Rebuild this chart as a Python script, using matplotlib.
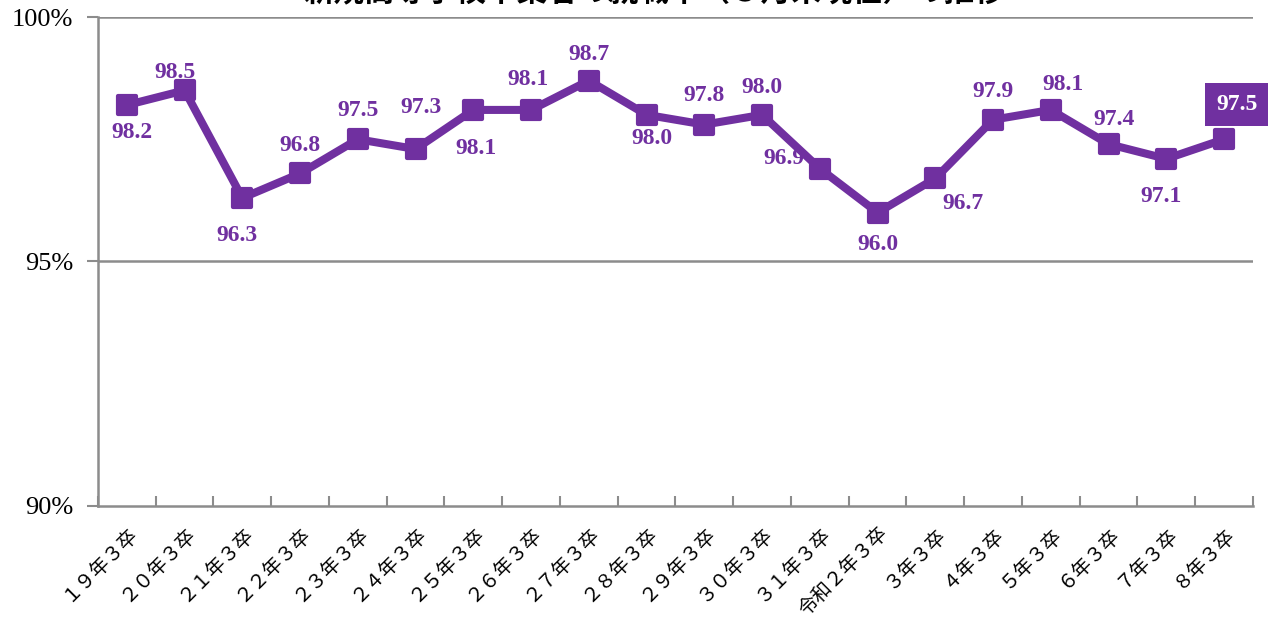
import matplotlib
matplotlib.use("Agg")
import matplotlib.pyplot as plt
from matplotlib.markers import MarkerStyle

categories = [
    "１９年３卒", "２０年３卒", "２１年３卒", "２２年３卒", "２３年３卒",
    "２４年３卒", "２５年３卒", "２６年３卒", "２７年３卒", "２８年３卒",
    "２９年３卒", "３０年３卒", "３１年３卒", "令和２年３卒", "３年３卒",
    "４年３卒", "５年３卒", "６年３卒", "７年３卒", "８年３卒",
]
rates = [98.2, 98.5, 96.3, 96.8, 97.5, 97.3, 98.1, 98.1, 98.7, 98.0,
         97.8, 98.0, 96.9, 96.0, 96.7, 97.9, 98.1, 97.4, 97.1, 97.5]
y_ticks = [90, 95, 100]
y_tick_labels = ["90%", "95%", "100%"]
title = "新規高等学校卒業者の就職率（３月末現在）の推移"

# label offsets in points (layout only)
offsets = [
    (3.6, -20), (-7, 13), (-3.6, -27), (0, 20), (0, 21), (4, 30), (2, -28), (-2, 22),
    (0, 19), (4, -17), (0, 21), (0, 20), (-26, 7), (0, -23), (20, -18),
    (0, 20), (9, 18), (3.6, 18), (-4, -27), (9, 25),
]

PURPLE = "#7030A0"
GREY = "#8c8c8c"

fig = plt.figure(figsize=(12.71, 6.28), dpi=100)
ax = fig.add_axes([0.0771, 0.1943, 0.9087, 0.7786])

x = list(range(len(rates)))
marker = MarkerStyle("s", joinstyle="round")
ax.plot(x, rates, color=PURPLE, lw=5.8, marker=marker, ms=12.5,
        mfc=PURPLE, mec=PURPLE, mew=3, solid_joinstyle="round", zorder=3)

for i, (v, (dx, dy)) in enumerate(zip(rates, offsets)):
    last = i == len(rates) - 1
    ax.annotate(f"{v:.1f}", (i, v), xytext=(dx, dy), textcoords="offset points",
                ha="center", va="center", fontsize=17, fontweight="bold",
                family="Liberation Serif",
                color="white" if last else PURPLE,
                bbox=dict(boxstyle="square,pad=0.45", fc=PURPLE, ec="none") if last else None,
                zorder=4)

ax.set_xlim(-0.5, len(rates) - 0.5)
ax.set_ylim(90, 100)
ax.set_yticks(y_ticks)
ax.set_yticklabels(y_tick_labels, family="Liberation Serif", fontsize=19)
ax.tick_params(axis="y", length=8, width=1.5, color=GREY, pad=10)

for yv in y_ticks[1:]:
    ax.axhline(yv, color=GREY, lw=1.8, zorder=1)

# category boundaries as ticks, labels at the centres
ax.set_xticks([i - 0.5 for i in range(len(rates) + 1)])
ax.set_xticklabels([])
ax.tick_params(axis="x", which="major", direction="in", length=7, width=1.5, color=GREY)
ax.set_xticks(x, minor=True)
ax.set_xticklabels(categories, minor=True, rotation=45, ha="right",
                   rotation_mode="anchor", family="Noto Sans CJK JP", fontsize=14)
ax.tick_params(axis="x", which="minor", length=0, pad=12)

for side in ["top", "right"]:
    ax.spines[side].set_visible(False)
for side in ["left", "bottom"]:
    ax.spines[side].set_color(GREY)
    ax.spines[side].set_linewidth(1.8)

fig.text(0.515, 1.0 - 8 / 628, title, ha="center", va="bottom",
         family="Noto Sans CJK JP", fontsize=22, fontweight="bold")

fig.savefig("out.png", dpi=100)
